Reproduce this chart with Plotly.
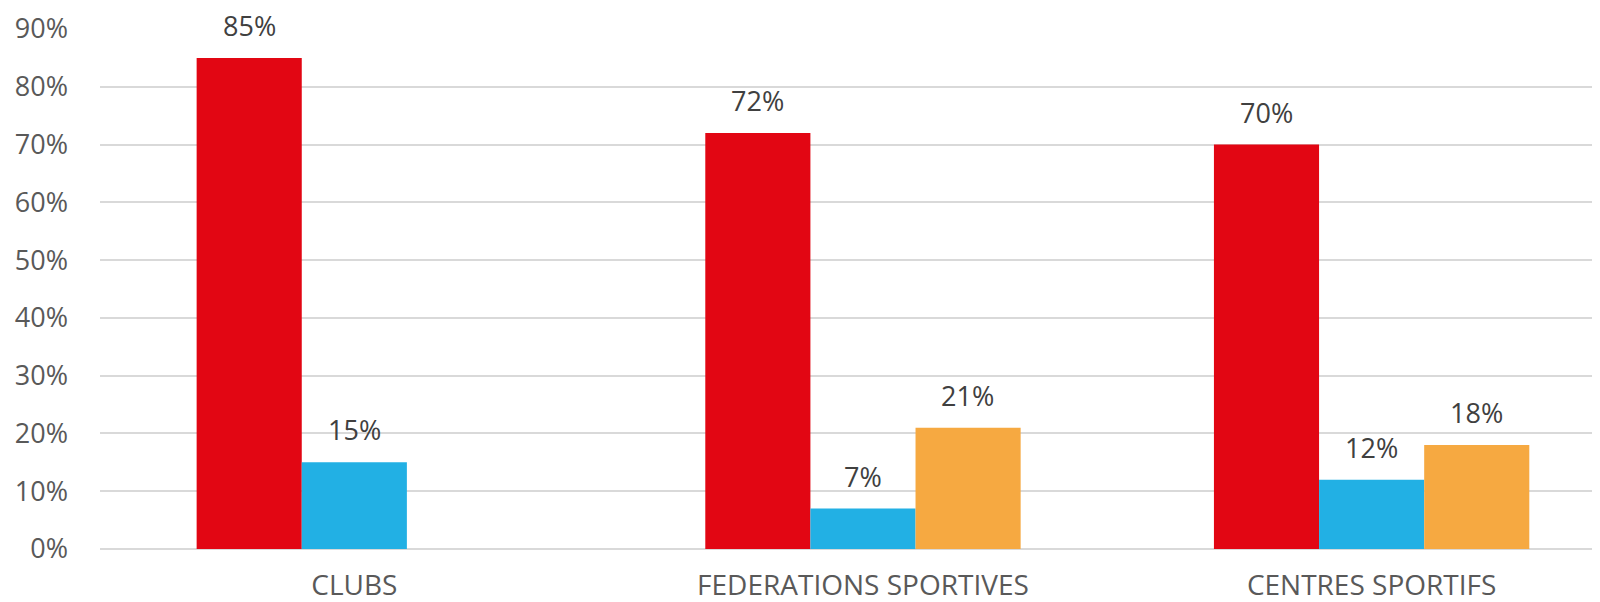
import plotly.graph_objects as go

# Données
categories = ["CLUBS", "FEDERATIONS SPORTIVES", "CENTRES SPORTIFS"]
serie_rouge = [0.85, 0.72, 0.70]
serie_bleue = [0.15, 0.07, 0.12]
serie_orange = [None, 0.21, 0.18]
y_ticks = [0, 0.1, 0.2, 0.3, 0.4, 0.5, 0.6, 0.7, 0.8, 0.9]

couleurs = ["#E20613", "#22B0E4", "#F6A941"]
series = [serie_rouge, serie_bleue, serie_orange]

# décalage horizontal (px) de chaque série dans son groupe
decalages = [-105, 0, 105]

fig = go.Figure()

for valeurs, couleur in zip(series, couleurs):
    fig.add_trace(go.Bar(
        x=categories,
        y=valeurs,
        marker=dict(color=couleur, line=dict(width=0)),
        showlegend=False,
        hoverinfo="x+y"
    ))

# Étiquettes de données, un peu au-dessus des barres
for valeurs, dx in zip(series, decalages):
    for cat, val in zip(categories, valeurs):
        if val is None:
            continue
        fig.add_annotation(
            x=cat,
            y=val,
            text=f"{val:.0%}",
            showarrow=False,
            xshift=dx,
            yanchor="bottom",
            yshift=12,
            font=dict(size=27, color="#404040")
        )

# La zone de tracé déborde à droite de l'image (comme dans l'original)
fig.update_layout(
    width=1592,
    height=594,
    margin=dict(l=92, r=0, t=21, b=53),
    barmode="group",
    bargap=0.38,
    bargroupgap=0,
    plot_bgcolor="white",
    paper_bgcolor="white",
    font=dict(family="Open Sans, Liberation Sans, sans-serif", color="#595959"),
    xaxis=dict(
        automargin=False,
        range=[-0.5, 2.449],
        tickfont=dict(size=28, color="#595959"),
        showline=False,
        ticks="",
        ticklabelstandoff=17
    ),
    yaxis=dict(
        automargin=False,
        range=[0, 0.9],
        tickvals=y_ticks,
        tickformat=".0%",
        tickfont=dict(size=27, color="#595959"),
        gridcolor="#D9D9D9",
        gridwidth=1.5,
        zeroline=True,
        zerolinecolor="#D9D9D9",
        zerolinewidth=1.5,
        ticklabelstandoff=31
    )
)

fig.write_html("out.html")
